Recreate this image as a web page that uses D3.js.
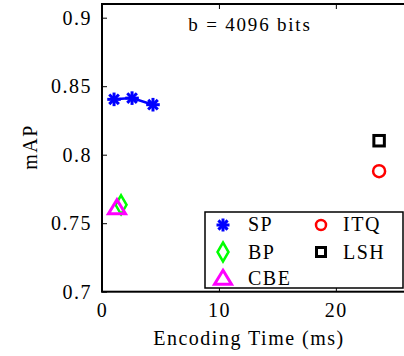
<!DOCTYPE html>
<head>
<meta charset="utf-8">
<script src="https://d3js.org/d3.v7.min.js"></script>
<style>
  body { margin: 0; background: #fff; }
</style>
</head>
<body>
<svg width="404" height="356"></svg>
<script>
// data
var spTime = [1.03, 2.57, 4.36];
var spMap = [0.8404, 0.8413, 0.8365];
var bpPoint = [1.63, 0.7634];
var cbePoint = [1.28, 0.7615];
var itqPoint = [23.7, 0.788];
var lshPoint = [23.7, 0.8102];
var xTicks = [0, 10, 20];
var yTicks = [0.7, 0.75, 0.8, 0.85, 0.9];
var yTickLabels = ["0.7", "0.75", "0.8", "0.85", "0.9"];

var serif = "Liberation Serif, Times New Roman, serif";
var svg = d3.select("svg").style("font-family", serif);

var x = d3.scaleLinear().domain([0, 26]).range([102, 406]);
var y = d3.scaleLinear().domain([0.7, 0.9]).range([291.7, 17.7]);

// frame
svg.append("rect")
    .attr("x", x(0)).attr("y", 4)
    .attr("width", x(26) - x(0)).attr("height", y(0.7) - 4)
    .attr("fill", "none").attr("stroke", "#000").attr("stroke-width", 2);

// x axis
var xa = svg.append("g").attr("transform", "translate(0," + y(0.7) + ")")
    .call(d3.axisBottom(x).tickValues(xTicks).tickSizeInner(-5).tickSizeOuter(0).tickPadding(11));
xa.select(".domain").remove();
xa.attr("font-family", null);
xa.selectAll("text").attr("font-size", 20).style("letter-spacing", "1.5px").style("font-family", serif);
svg.append("g").attr("transform", "translate(0,4)")
    .call(d3.axisTop(x).tickValues(xTicks.slice(1)).tickSizeInner(-5).tickSizeOuter(0).tickFormat(""))
    .select(".domain").remove();

// y axis
var ya = svg.append("g").attr("transform", "translate(" + x(0) + ",0)")
    .call(d3.axisLeft(y).tickValues(yTicks).tickSizeInner(-5).tickSizeOuter(0).tickPadding(10)
        .tickFormat(function(d, i) { return yTickLabels[i]; }));
ya.select(".domain").remove();
ya.attr("font-family", null);
ya.selectAll("text").attr("font-size", 20).style("letter-spacing", "1.5px").style("font-family", serif);

svg.append("text")
    .attr("x", 249).attr("y", 345)
    .attr("text-anchor", "middle").attr("font-size", 20)
    .style("letter-spacing", "1.5px")
    .text("Encoding Time (ms)");
svg.append("text")
    .attr("transform", "translate(37,147) rotate(-90)")
    .attr("text-anchor", "middle").attr("font-size", 20)
    .style("letter-spacing", "1.5px")
    .text("mAP");
svg.append("text")
    .attr("x", 250).attr("y", 31)
    .attr("text-anchor", "middle").attr("font-size", 19)
    .style("letter-spacing", "1.8px")
    .text("b = 4096 bits");

// marker drawers
function star(g, cx, cy, r) {
    for (var k = 0; k < 4; k++) {
        var a = k * Math.PI / 4;
        g.append("line")
            .attr("x1", cx - r * Math.cos(a)).attr("y1", cy - r * Math.sin(a))
            .attr("x2", cx + r * Math.cos(a)).attr("y2", cy + r * Math.sin(a))
            .attr("stroke", "#0000ff").attr("stroke-width", 3);
    }
}
function diamond(g, cx, cy, w, h) {
    g.append("path")
        .attr("d", "M" + cx + "," + (cy - h) + "L" + (cx + w) + "," + cy + "L" + cx + "," + (cy + h) + "L" + (cx - w) + "," + cy + "Z")
        .attr("fill", "none").attr("stroke", "#00ff00").attr("stroke-width", 2.5);
}
function triangle(g, cx, cy, w, h) {
    g.append("path")
        .attr("d", "M" + cx + "," + (cy - h * 0.55) + "L" + (cx + w) + "," + (cy + h * 0.45) + "L" + (cx - w) + "," + (cy + h * 0.45) + "Z")
        .attr("fill", "none").attr("stroke", "#ff00ff").attr("stroke-width", 3);
}
function circle(g, cx, cy, r) {
    g.append("circle").attr("cx", cx).attr("cy", cy).attr("r", r)
        .attr("fill", "none").attr("stroke", "#ff0000").attr("stroke-width", 2.5);
}
function square(g, cx, cy, s) {
    g.append("rect").attr("x", cx - s / 2).attr("y", cy - s / 2).attr("width", s).attr("height", s)
        .attr("fill", "none").attr("stroke", "#000").attr("stroke-width", 3);
}

var marks = svg.append("g");

// SP line + stars
marks.append("path")
    .datum(d3.zip(spTime, spMap))
    .attr("fill", "none").attr("stroke", "#0000ff").attr("stroke-width", 2.5)
    .attr("d", d3.line().x(function(d) { return x(d[0]); }).y(function(d) { return y(d[1]); }));
spTime.forEach(function(t, i) { star(marks, x(t), y(spMap[i]), 6.8); });

diamond(marks, x(bpPoint[0]), y(bpPoint[1]), 5.5, 9.5);
triangle(marks, x(cbePoint[0]), y(cbePoint[1]), 8.5, 14);
circle(marks, x(itqPoint[0]), y(itqPoint[1]), 6);
square(marks, x(lshPoint[0]), y(lshPoint[1]), 10.5);

// legend
var lg = svg.append("g");
lg.append("rect").attr("x", 205).attr("y", 212).attr("width", 198).attr("height", 76)
    .attr("fill", "#fff").attr("stroke", "#000").attr("stroke-width", 1.5);
star(lg, 223, 225, 6.5);
diamond(lg, 223, 252, 5.5, 9.5);
triangle(lg, 223, 278, 8.5, 14);
circle(lg, 321, 225, 5);
square(lg, 321, 252, 9);
var legendItems = [["SP", 248, 231], ["BP", 248, 259], ["CBE", 248, 285], ["ITQ", 343, 231], ["LSH", 343, 259]];
legendItems.forEach(function(d) {
    lg.append("text").attr("x", d[1]).attr("y", d[2]).attr("font-size", 20)
        .style("letter-spacing", "1.5px").text(d[0]);
});
</script>
</body>
